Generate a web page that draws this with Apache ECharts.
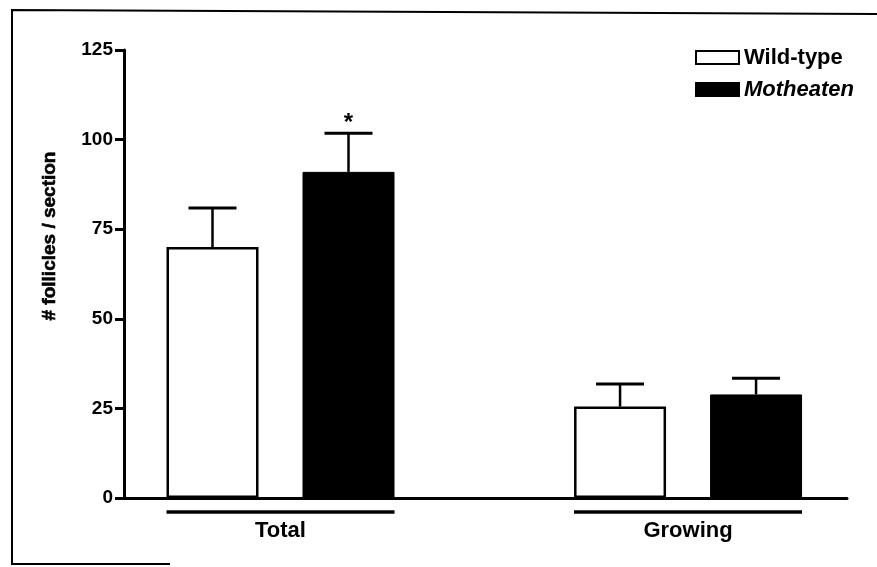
<!DOCTYPE html>
<html>
<head>
<meta charset="utf-8">
<script src="https://cdn.jsdelivr.net/npm/echarts@6/dist/echarts.min.js"></script>
<style>html,body{margin:0;padding:0;background:#fff}#c{width:877px;height:567px}</style>
</head>
<body>
<div id="c"></div>
<script>
const categories = ["Total", "Growing"];
const seriesNames = ["Wild-type", "Motheaten"];
const wildType = [70, 25.5];
const wildTypeErr = [10.9, 6.3];
const motheaten = [91, 28.9];
const motheatenErr = [10.8, 4.5];
const significance = [["", ""], ["*", ""]];
const yTicks = [0, 25, 50, 75, 100, 125];

const FONT = '"Liberation Sans", Arial, sans-serif';
const BAR_W = 92, BAR_GAP = 44;
const offsets = [-(BAR_W + BAR_GAP) / 2, (BAR_W + BAR_GAP) / 2];
const means = [wildType, motheaten];
const errs = [wildTypeErr, motheatenErr];

const chart = echarts.init(document.getElementById('c'), null, {renderer: 'canvas'});

const errData = [];
for (let s = 0; s < 2; s++) for (let i = 0; i < categories.length; i++) errData.push([i, means[s][i], errs[s][i], s]);

chart.setOption({
  animation: false,
  backgroundColor: '#fff',
  grid: {left: 124, right: 30, top: 50, bottom: 69},
  legend: {
    orient: 'vertical', left: 690, top: 41, itemWidth: 43, itemHeight: 13, itemGap: 9,
    itemStyle: {borderColor: '#000', borderWidth: 2},
    textStyle: {fontFamily: FONT, fontSize: 22, fontWeight: 'bold', color: '#000', lineHeight: 23},
    data: [{name: seriesNames[0], icon: 'rect'}, {name: seriesNames[1], icon: 'rect', textStyle: {fontStyle: 'italic'}}]
  },
  xAxis: {
    type: 'value', min: -0.384, max: 1.39,
    axisLine: {show: true, onZero: false, lineStyle: {color: '#000', width: 3}},
    axisTick: {show: false}, splitLine: {show: false},
    axisLabel: {customValues: categories.map((c, i) => i), formatter: v => categories[Math.round(v)] || '',
      fontFamily: FONT, fontSize: 22, fontWeight: 'bold', color: '#000', margin: 22}
  },
  yAxis: {
    type: 'value', min: yTicks[0], max: yTicks[yTicks.length - 1], interval: 25,
    axisLine: {show: true, onZero: false, lineStyle: {color: '#000', width: 3}},
    axisTick: {show: true, length: 9, lineStyle: {color: '#000', width: 3}},
    splitLine: {show: false},
    axisLabel: {fontFamily: FONT, fontSize: 19, fontWeight: 'bold', color: '#000', margin: 11}
  },
  series: [
    {name: seriesNames[0], type: 'bar', barWidth: BAR_W, barGap: (BAR_GAP / BAR_W * 100) + '%',
      itemStyle: {color: '#fff', borderColor: '#000', borderWidth: 2.5},
      data: categories.map((c, i) => [i, wildType[i]])},
    {name: seriesNames[1], type: 'bar', barWidth: BAR_W, barGap: (BAR_GAP / BAR_W * 100) + '%',
      itemStyle: {color: '#000', borderColor: '#000', borderWidth: 1},
      data: categories.map((c, i) => [i, motheaten[i]])},
    {type: 'custom', silent: true, clip: false, z: 5,
      data: errData,
      renderItem: function (params, api) {
        const i = api.value(0), m = api.value(1), e = api.value(2), s = api.value(3);
        const p0 = api.coord([i, m]), p1 = api.coord([i, m + e]);
        const x = p0[0] + offsets[s];
        const children = [
          {type: 'line', shape: {x1: x, y1: p0[1], x2: x, y2: p1[1]}, style: {stroke: '#000', lineWidth: 2.5}},
          {type: 'line', shape: {x1: x - 24, y1: p1[1], x2: x + 24, y2: p1[1]}, style: {stroke: '#000', lineWidth: 3}}
        ];
        const sig = significance[s][i];
        if (sig) children.push({type: 'text', x: x, y: p1[1] + 2, style: {text: sig, fontFamily: FONT, fontSize: 24, fontWeight: 'bold', fill: '#000', align: 'center', verticalAlign: 'bottom'}});
        return {type: 'group', children: children};
      }},
    {type: 'custom', silent: true, clip: false, z: 5,
      data: categories.map((c, i) => [i, 0]),
      renderItem: function (params, api) {
        const p = api.coord([api.value(0), 0]);
        const half = BAR_W + BAR_GAP / 2;
        return {type: 'line', shape: {x1: p[0] - half, y1: p[1] + 14, x2: p[0] + half, y2: p[1] + 14}, style: {stroke: '#000', lineWidth: 3.5}};
      }}
  ],
  graphic: [
    {type: 'text', x: 50, y: 236, rotation: Math.PI / 2, style: {text: '# follicles / section', fontFamily: FONT, fontSize: 19, fontWeight: 900, fill: '#000', stroke: '#000', lineWidth: 0.6, align: 'center', verticalAlign: 'middle'}},
    {type: 'polyline', shape: {points: [[877, 14], [12, 10], [12, 564], [170, 564]]}, style: {stroke: '#000', lineWidth: 2, fill: null}}
  ]
});
</script>
</body>
</html>
